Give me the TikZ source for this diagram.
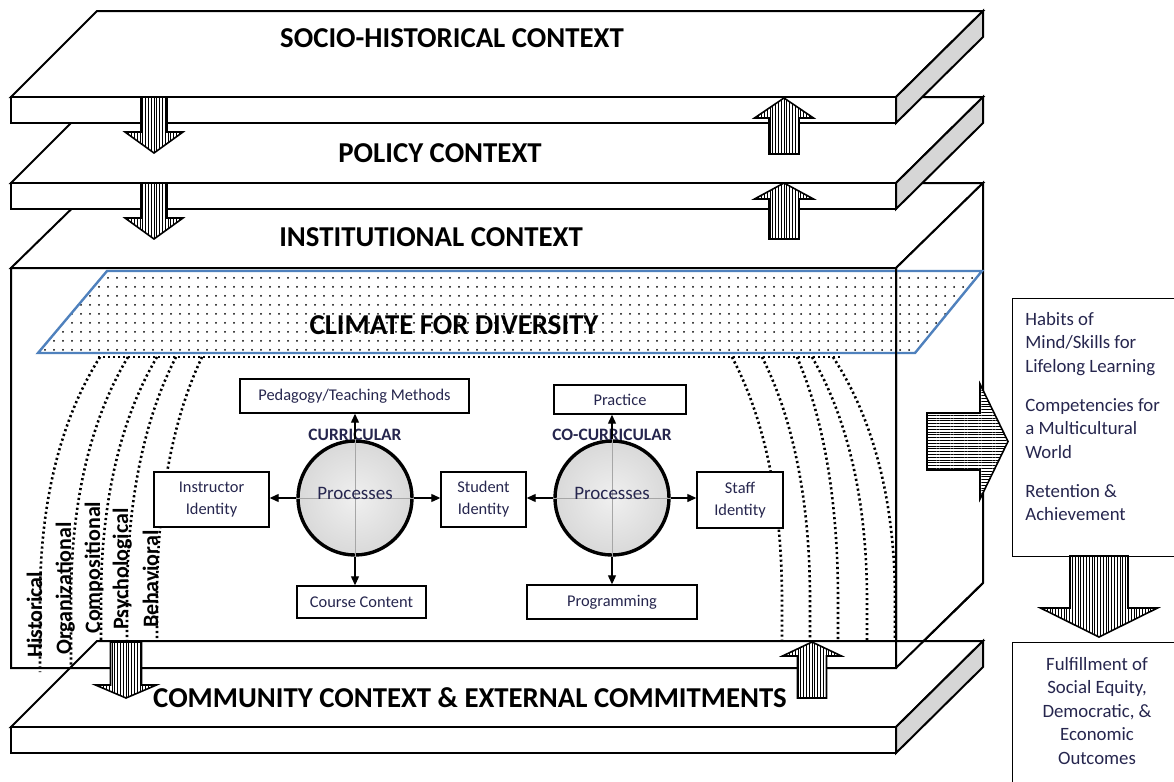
\documentclass[tikz,border=0pt]{standalone}
\usepackage{fontspec}
\setmainfont{Carlito}
\usetikzlibrary{calc, positioning, arrows.meta, patterns.meta}

\definecolor{sidegray}{RGB}{214,214,214}
\definecolor{climblue}{RGB}{79,129,189}
\definecolor{boxtext}{RGB}{38,38,78}

\tikzset{
  slab/.style={draw=black, line width=1pt, fill=white},
  slabside/.style={slab, fill=sidegray},
  ctxlabel/.style={font=\fontsize{14.4}{17}\selectfont\bfseries},
  smallbox/.style={draw=black, line width=0.7pt, fill=white, align=center, text=boxtext, font=\fontsize{8.2}{11}\selectfont, inner sep=1pt},
  proc/.style={circle, draw=black, line width=1.7pt, inner color=gray!12, outer color=gray!30, minimum size=57pt},
  proctext/.style={text=boxtext, font=\fontsize{9.5}{11}\selectfont},
  proclabel/.style={text=boxtext, font=\fontsize{8.7}{10}\selectfont\bfseries},
  procarrow/.style={-{Triangle[length=4.5pt,width=4pt]}, line width=0.6pt},
  crossline/.style={draw=gray!70, line width=0.4pt},
  dimline/.style={line width=1.3pt, dash pattern=on 1.1pt off 1.4pt},
  dimlabel/.style={rotate=90, inner sep=0pt, font=\fontsize{11}{13}\selectfont\bfseries},
  blockv/.style={draw=black, line width=0.8pt, preaction={fill=white}, pattern={Lines[angle=90,distance=1.4pt,line width=0.45pt]}},
  blockh/.style={draw=black, line width=0.8pt, preaction={fill=white}, pattern={Lines[angle=0,distance=1.4pt,line width=0.45pt]}},
  outcome/.style={draw=black, line width=0.7pt, fill=white},
  outtext/.style={text=boxtext, inner sep=0pt, font=\fontsize{9.4}{11.75}\selectfont}
}

% slab with its back edge at y = #1
\newcommand{\ctxslab}[1]{%
  \draw[slab] (11,{#1+86}) -- (97,#1) -- (983,#1) -- (896,{#1+86}) -- cycle;
  \draw[slabside] (896,{#1+86}) -- (983,#1) -- (983,{#1+26}) -- (896,{#1+112}) -- cycle;
  \draw[slab] (11,{#1+86}) rectangle (896,{#1+112});}

% hatched block arrow: x, start, head base, tip, half shaft, half head
\newcommand{\vblock}[6]{%
  \draw[blockv] ({#1-#5},#2) -- ({#1-#5},#3) -- ({#1-#6},#3) -- (#1,#4)
    -- ({#1+#6},#3) -- ({#1+#5},#3) -- ({#1+#5},#2) -- cycle;}

\begin{document}
\begin{tikzpicture}[x=0.5pt, y=-0.5pt]
\useasboundingbox (0,0) rectangle (1174,782);
\clip (0,0) rectangle (1174,782);

% institutional box
\draw[slab] (11,268) -- (98,183) -- (983,183) -- (896,268) -- cycle;
\draw[slab] (896,268) -- (983,183) -- (983,583) -- (896,668) -- cycle;
\draw[slab] (11,268) rectangle (896,668);
\node[ctxlabel] (inst) at (431,237) {INSTITUTIONAL CONTEXT};

\ctxslab{97}
\node[ctxlabel] (policy) at (440,153) {POLICY CONTEXT};
\ctxslab{11}
\node[ctxlabel] (socio) at (452,38) {SOCIO-HISTORICAL CONTEXT};

% climate
\draw[draw=climblue, line width=1.2pt, pattern={Dots[distance=4.5pt, radius=0.5pt]}] (38,353) -- (107,271) -- (982,271) -- (915,353) -- cycle;
\node[ctxlabel] (climate) at (454,325) {CLIMATE FOR DIVERSITY};
\draw[line width=1pt] (11,268) rectangle (896,668);

\draw[dimline] (98,357) -- (842,357);
\foreach \xs/\xe/\ye in {100/40/672, 128/71/670, 157/101/641, 176/127/641, 202/157/641}
  \draw[dimline] (\xs,357) .. controls ({\xs-0.4*(\xs-\xe)},395) and (\xe,470) .. (\xe,600) -- (\xe,\ye);
\foreach \xs/\xe in {732/782, 762/810, 797/838, 812/867, 833/895}
  \draw[dimline] (\xs,357) .. controls ({\xs+0.4*(\xe-\xs)},395) and (\xe,470) .. (\xe,600) -- (\xe,641);
\foreach \lx/\ly/\lt in {42/658/Historical, 71/655/Organizational, 100/634/Compositional, 128/630/Psychological, 158/628/Behavioral}
  \node[dimlabel, anchor=base west] (\lt) at (\lx,\ly) {\lt};

\node[smallbox, minimum width=114.5pt, minimum height=17pt] (ped) at (354.5,396) {Pedagogy/Teaching Methods};
\node[smallbox, minimum width=57.5pt, minimum height=27.5pt] (instr) at (211.5,499.5) {Instructor\\Identity};
\node[smallbox, minimum width=42.5pt, minimum height=27.5pt] (stud) at (483.5,499.5) {Student\\Identity};
\node[smallbox, minimum width=64.5pt, minimum height=16pt] (course) at (361.5,602) {Course Content};
\node[smallbox, minimum width=66pt, minimum height=14.5pt] (prac) at (620,399.5) {Practice};
\node[smallbox, minimum width=85pt, minimum height=17pt] (prog) at (612,602) {Programming};
\node[smallbox, minimum width=43pt, minimum height=28pt] (staff) at (740,500) {Staff\\Identity};

\node[proc] (cur) at (355,498) {};
\node[proc] (cocur) at (612,498) {};
\foreach \c in {cur, cocur}
  \draw[crossline] (\c.north) -- (\c.south) (\c.west) -- (\c.east);
\node[proctext] (curtext) at (355,493) {Processes};
\node[proctext] (cocurtext) at (612,493) {Processes};
\node[proclabel] (curlab) at (355,435) {CURRICULAR};
\node[proclabel] (cocurlab) at (612,435) {CO-CURRICULAR};

\draw[procarrow] (cur.north) -- (cur.north |- ped.south);
\draw[procarrow] (cur.west) -- (cur.west -| instr.east);
\draw[procarrow] (cur.east) -- (cur.east -| stud.west);
\draw[procarrow] (cur.south) -- (cur.south |- course.north);
\draw[procarrow] (cocur.north) -- (cocur.north |- prac.south);
\draw[procarrow] (cocur.west) -- (cocur.west -| stud.east);
\draw[procarrow] (cocur.east) -- (cocur.east -| staff.west);
\draw[procarrow] (cocur.south) -- (cocur.south |- prog.north);

% community slab
\ctxslab{641}
\node[ctxlabel] (community) at (470,698) {COMMUNITY CONTEXT \& EXTERNAL COMMITMENTS};
\draw[line width=1pt] (11,268) rectangle (896,668) (896,668) -- (983,583);

\vblock{154}{97}{132}{153}{13}{29}
\vblock{154}{183}{218}{239}{13}{29}
\vblock{784}{154}{118}{98}{15}{29.5}
\vblock{784}{239}{199}{183}{15}{29.5}
\vblock{126}{642}{685}{698}{15.5}{30.5}
\vblock{812}{698}{656}{642}{14.5}{29.5}

% outcomes
\draw[blockh] (927,413) -- (980,413) -- (980,384) -- (1008,441.5) -- (980,499) -- (980,470) -- (927,470) -- cycle;
\node[outcome, minimum width=82pt, minimum height=129pt, anchor=north west] (skills) at (1012,298) {};
\node[outtext, anchor=north west, align=left] (skillstext) at (1025,312) {Habits of\\Mind/Skills for\\Lifelong Learning\\[7.75pt]Competencies for\\a Multicultural\\World\\[7.75pt]Retention \&\\Achievement};
\node[outcome, minimum width=82pt, minimum height=75pt, anchor=north west] (fulfil) at (1012,642) {};
\node[outtext, align=center] (fulfiltext) at (1097,711) {Fulfillment of\\Social Equity,\\Democratic, \&\\Economic\\Outcomes};
\vblock{1099}{556}{608}{637}{29}{58.5}
\end{tikzpicture}
\end{document}
